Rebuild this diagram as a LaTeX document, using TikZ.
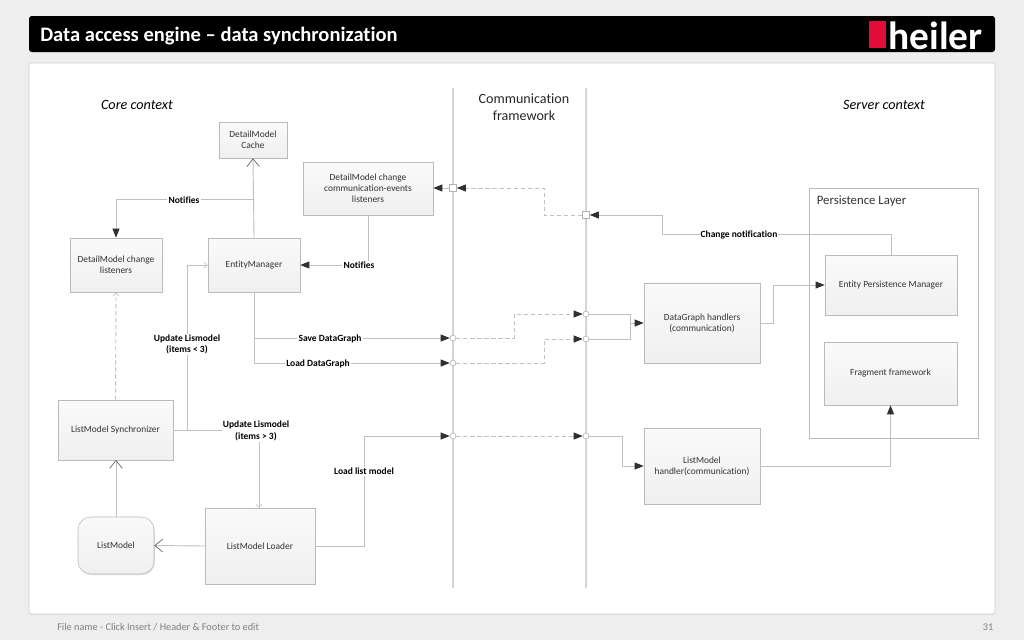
\documentclass[tikz,border=0pt]{standalone}
\usepackage{fontspec}
\setmainfont{Carlito}[Ligatures={TeX,NoCommon}]
\usetikzlibrary{arrows.meta,shadows}
\definecolor{linegray}{HTML}{C0C0C0}
\definecolor{tipgray}{HTML}{303030}
\definecolor{slidegray}{HTML}{EEEEEE}
\definecolor{logored}{HTML}{E30B3A}
\tikzset{
 modelbox/.style={draw=black!27,top color=black!2,middle color=white,bottom color=black!6,inner sep=1pt,align=center,
   font=\fontsize{6.7}{8}\selectfont,text=black!80,
   drop shadow={shadow xshift=.6pt,shadow yshift=-.7pt,opacity=.22,fill=black!60}},
 linktext/.style={fill=white,inner sep=.8pt,align=center,font=\fontsize{6.75}{8.2}\selectfont\bfseries},
 link/.style={draw=linegray,line width=.65pt},
 dashlink/.style={link,dashed,dash pattern=on 3pt off 2pt},
 solidtip/.style={-{Triangle[length=6.5pt,width=5pt,color=tipgray]}},
 opentip/.style={-{Straight Barb[length=5.5pt,width=9pt,color=black!60,line width=.5pt]}},
 thintip/.style={-{Straight Barb[length=2.5pt,width=4.5pt,color=linegray,line width=.4pt]}},
 lane/.style={draw=black!17,line width=.85pt},
 portc/.style={circle,draw=black!30,fill=white,inner sep=0pt,minimum size=4.2pt,line width=.4pt},
 ports/.style={rectangle,draw=black!30,fill=white,inner sep=0pt,minimum size=5pt,line width=.4pt},
}
\begin{document}
\begin{tikzpicture}[x=.025cm,y=-.025cm]
\useasboundingbox (0,0) rectangle (1024,640);
\fill[slidegray] (0,0) rectangle (1024,640);
\fill[black,rounded corners=2pt] (29,16) rectangle (995,52);
\draw[draw=black!18,fill=white,rounded corners=2pt,drop shadow={shadow xshift=0pt,shadow yshift=-.5pt,opacity=.2}] (29,63) rectangle (995,614);

% header and footer
\node (title) at (40,36.5) [anchor=west,inner sep=0pt,text=white,font=\fontsize{14.6}{16}\selectfont\bfseries]{Data access engine -- data synchronization};
\node (logomark) at (877.5,34.5) [fill=logored,inner sep=0pt,minimum width=.425cm,minimum height=.675cm]{};
\node (logotext) at (935.5,36) [inner sep=0pt,text=white,font=\fontsize{28}{30}\selectfont\bfseries]{heiler};
\node (footer) at (57,627) [anchor=west,inner sep=0pt,text=black!50,font=\fontsize{7.3}{8}\selectfont]{File name - Click Insert / Header \& Footer to edit};
\node (pagenum) at (988,627) [inner sep=0pt,text=black!50,font=\fontsize{7.3}{8}\selectfont]{31};

% contexts
\node (corectx) at (137,105) [font=\fontsize{10.1}{11}\selectfont\itshape]{Core context};
\node (serverctx) at (884,105) [font=\fontsize{10.1}{11}\selectfont\itshape]{Server context};
\node (commctx) at (524,107.5) [align=center,text=black!85,font=\fontsize{10}{12}\selectfont]{Communication\\framework};

% framework lanes
\foreach \x/\n in {453/a,586/b}
{
    \coordinate (lane\n top) at (\x,88);
    \coordinate (lane\n bot) at (\x,588);
    \draw[lane] (lane\n top)--(lane\n bot);
}

% boxes
\node (cache) at (253,140) [modelbox,minimum width=1.7cm,minimum height=.9cm]{DetailModel\\Cache};
\node (commlisten) at (368,188.5) [modelbox,minimum width=3.25cm,minimum height=1.325cm]{DetailModel change\\communication-events\\listeners};
\node (listeners) at (116,265) [modelbox,minimum width=2.3cm,minimum height=1.35cm]{DetailModel change\\listeners};
\node (entity) at (254,265) [modelbox,minimum width=2.3cm,minimum height=1.35cm]{EntityManager};
\node (sync) at (115.5,430) [modelbox,minimum width=2.875cm,minimum height=1.5cm]{ListModel Synchronizer};
\node (listmodel) at (116,545.5) [modelbox,rounded corners=.32cm,minimum width=1.9cm,minimum height=1.425cm]{ListModel};
\node (loader) at (260,546) [modelbox,minimum width=2.75cm,minimum height=1.9cm]{ListModel Loader};
\node (dgraph) at (702,323) [modelbox,minimum width=2.9cm,minimum height=2cm]{DataGraph handlers\\(communication)};
\node (lmhandler) at (702,466) [modelbox,minimum width=2.9cm,minimum height=1.9cm]{ListModel\\handler(communication)};
\node (layer) at (894,313.5) [draw=black!27,line width=.7pt,minimum width=4.225cm,minimum height=6.25cm]{};
\node (layertext) at (861.5,201) [inner sep=0pt,text=black!80,font=\fontsize{9.1}{10}\selectfont]{Persistence Layer};
\node (persist) at (891,285) [modelbox,minimum width=3.3cm,minimum height=1.5cm]{Entity Persistence Manager};
\node (fragment) at (890.5,373.5) [modelbox,minimum width=3.325cm,minimum height=1.575cm]{Fragment framework};

% ports on the lanes
\foreach \n/\x/\y in {psave/453/338,pload/453/363,plist/453/436,qsave/586/314,qload/586/339,qlist/586/436}
{
    \node (\n) at (\x,\y) [portc]{};
}
\node (pevent) at (453,188) [ports]{};
\node (qevent) at (586,215) [ports]{};

% core side
\draw[link,opentip] (entity.north)--(cache.south);
\draw[link,solidtip] (254,199)-|(listeners.north);
\draw[link,solidtip] (commlisten.south)|-(entity.east);
\draw[dashlink,thintip] (sync.north)--(listeners.south);
\draw[link,thintip] (sync.east)--(187,430)|-(entity.west);
\draw[link,thintip] (sync.east)-|(259,508);
\draw[link,opentip] (loader.west)--(listmodel.east);
\draw[link,opentip] (listmodel.north)--(116,460);
\draw[link,solidtip] (loader.east)--(364,546)|-(plist);
\draw[link,solidtip] (entity.south)|-(psave);
\draw[link,solidtip] (entity.south)|-(pload);

% across the framework
\draw[dashlink,solidtip] (psave)--(514,338)|-(qsave);
\draw[dashlink,solidtip] (pload)--(544,363)|-(qload);
\draw[dashlink,solidtip] (plist)--(qlist);
\draw[dashlink,solidtip] (qevent)--(544,215)|-(pevent);
\draw[link,solidtip] (pevent)--(commlisten.east|-pevent);

% server side
\draw[link,solidtip] (persist.north)--(891,234)-|(662,215)--(qevent);
\draw[link] (qsave)-|(630,323);
\draw[link] (qload)-|(630,323);
\draw[link,solidtip] (630,323)--(dgraph.west);
\draw[link,solidtip] (dgraph.east)--(773,323)|-(persist.west);
\draw[link,solidtip] (qlist)--(622,436)|-(lmhandler.west);
\draw[link,solidtip] (lmhandler.east)-|(fragment.south);

% connector texts
\node (tnotifya) at (184,200) [linktext]{Notifies};
\node (tnotifyb) at (359,265.5) [linktext]{Notifies};
\node (tupdlow) at (187,344.5) [linktext]{Update Lismodel\\(items < 3)};
\node (tupdhigh) at (256,431) [linktext]{Update Lismodel\\(items > 3)};
\node (tsave) at (330,338.5) [linktext]{Save DataGraph};
\node (tload) at (318,363.5) [linktext]{Load DataGraph};
\node (tloadlist) at (364,471.5) [linktext]{Load list model};
\node (tchange) at (739,234.5) [linktext]{Change notification};
\end{tikzpicture}
\end{document}
